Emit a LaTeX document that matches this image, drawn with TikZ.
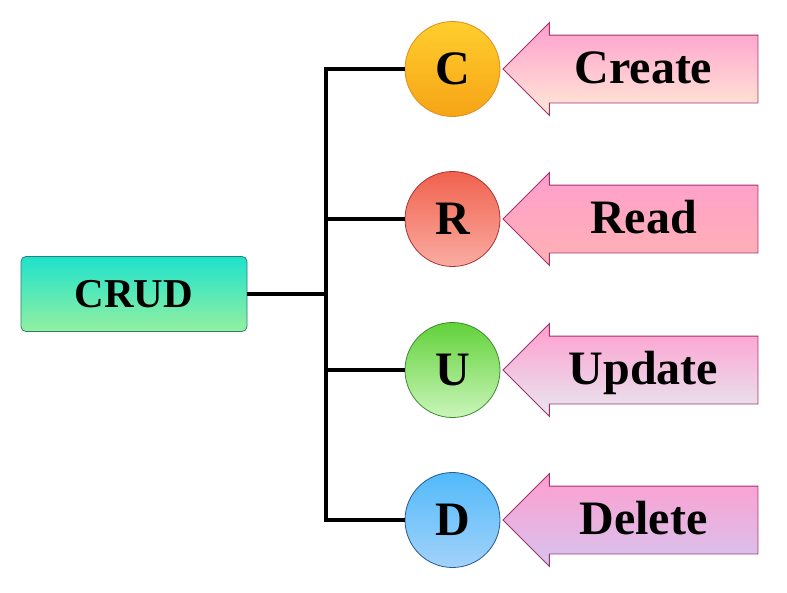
\documentclass[tikz,border=0pt]{standalone}
\usepackage{fontspec}
\setmainfont{Liberation Serif}
\usepackage{xcolor}
\usepackage{tikz}
\usetikzlibrary{arrows.meta,calc,shapes,positioning}
\definecolor{crudtop}{RGB}{30,226,204}
\definecolor{crudbot}{RGB}{148,240,160}
\definecolor{crudline}{RGB}{40,128,110}
\definecolor{arrline}{RGB}{160,50,110}
\definecolor{arrtop}{RGB}{255,158,206}
\tikzset{CRUD style/.style={font=\bfseries\fontsize{48}{50}\selectfont,line width=0.8pt}}

\begin{document}
\begin{tikzpicture}[x=1pt,y=-1pt,CRUD style]
	\tikzstyle{letter}=[circle,draw,minimum size=95pt,inner sep=0pt]
	\tikzstyle{verb}=[single arrow,draw=arrline,shape border rotate=180,
	minimum height=255pt,single arrow head extend=12.5pt,
	single arrow head indent=0pt,inner sep=0pt,top color=arrtop]
	\tikzstyle{word}=[text height=33pt,text depth=0pt,inner sep=0pt]
	\useasboundingbox (0,0) rectangle (787,592);
	
	\node[draw=crudline,rounded corners=5pt,minimum width=226pt,minimum height=75pt,
	top color=crudtop,bottom color=crudbot,font=\bfseries\fontsize{41}{43}\selectfont]
	(crud) at (134,294) {CRUD};
	
	\node[letter,draw={rgb,255:red,222;green,142;blue,30},top color={rgb,255:red,255;green,206;blue,45},
	bottom color={rgb,255:red,246;green,164;blue,22}] (c) at (452.5,69) {C};
	\node[letter,draw={rgb,255:red,170;green,52;blue,52},top color={rgb,255:red,240;green,98;blue,78},
	bottom color={rgb,255:red,250;green,172;blue,162}] (r) at (452.5,219) {R};
	\node[letter,draw={rgb,255:red,62;green,140;blue,50},top color={rgb,255:red,98;green,210;blue,58},
	bottom color={rgb,255:red,202;green,245;blue,186}] (u) at (452.5,370) {U};
	\node[letter,draw={rgb,255:red,40;green,90;blue,140},top color={rgb,255:red,82;green,186;blue,250},
	bottom color={rgb,255:red,162;green,210;blue,250}] (d) at (452.5,520) {D};
	
	% arrows pointing at the letters
	\node[verb,bottom color={rgb,255:red,255;green,234;blue,214},right=2pt of c] (ac) {\rule{0pt}{67pt}};
	\node[verb,bottom color={rgb,255:red,255;green,178;blue,178},right=2pt of r] (ar) {\rule{0pt}{67pt}};
	\node[verb,bottom color={rgb,255:red,230;green,232;blue,240},right=2pt of u] (au) {\rule{0pt}{67pt}};
	\node[verb,bottom color={rgb,255:red,214;green,196;blue,240},right=2pt of d] (ad) {\rule{0pt}{67pt}};
	
	\node[word] (tc) at ($(ac.center)+(-4,-2)$) {Create};
	\node[word] (tr) at ($(ar.center)+(-4,-2)$) {Read};
	\node[word] (tu) at ($(au.center)+(-4,-2)$) {Update};
	\node[word] (td) at ($(ad.center)+(-4,-2)$) {Delete};
	
	% tree
	\coordinate (trunk) at (326,0);
	\path[draw,line width=4.5pt]
	(c.west) -- (c.west -| trunk) -- (d.west -| trunk) -- (d.west)
	(r.west) -- (r.west -| trunk)
	(u.west) -- (u.west -| trunk)
	(crud.east) -- (crud.east -| trunk)
	;
\end{tikzpicture}
\end{document}
